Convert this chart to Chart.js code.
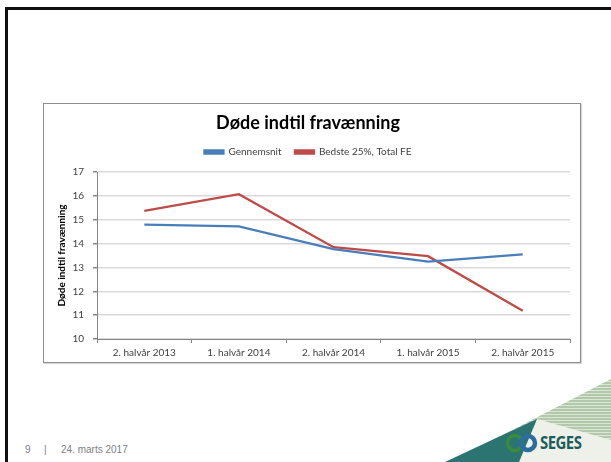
<!DOCTYPE html>
<html lang="da">
<head>
<meta charset="UTF-8">
<title>Døde indtil fravænning</title>
<script src="https://cdn.jsdelivr.net/npm/chart.js@4.4.1/dist/chart.umd.min.js"></script>
<style>
    html, body {
        margin: 0;
        padding: 0;
        background: #fff;
        width: 611px;
        height: 462px;
        overflow: hidden;
        position: relative;
    }
    .frame {
        position: absolute;
        left: 5px;
        top: 7px;
        width: 700px;
        height: 600px;
        border-top: 3px solid #111;
        border-left: 3px solid #111;
    }
    .chart-box {
        position: absolute;
        left: 43px;
        top: 103px;
        width: 536px;
        height: 258px;
        border: 1px solid #8c8c8c;
        box-shadow: 1px 1px 1px rgba(0,0,0,0.15);
        background: #fff;
    }
    .footer span {
        position: absolute;
        top: 444px;
        font-family: 'Liberation Sans', Arial, sans-serif;
        font-size: 10px;
        color: #808080;
    }
    .deco {
        position: absolute;
        left: 0;
        top: 0;
    }
    .seges {
        position: absolute;
        left: 540px;
        top: 431px;
        font-family: 'Open Sans', sans-serif;
        font-weight: bold;
        font-size: 17px;
        letter-spacing: -0.6px;
        color: #1d5e5b;
        transform: scaleX(0.88);
        transform-origin: left top;
    }
</style>
</head>
<body>
<div class="frame"></div>

<svg class="deco" width="611" height="462">
    <defs>
        <pattern id="stripes" width="4" height="3" patternUnits="userSpaceOnUse">
            <rect width="4" height="3" fill="#b2c8ab"/>
            <rect width="4" height="1" fill="#dce6d6"/>
        </pattern>
    </defs>
    <polygon points="611,379 443,466 611,466" fill="url(#stripes)"/>
    <polygon points="537,419 611,440 611,462 519,462" fill="#eef1ea"/>
    <polygon points="445,462 537,419 519,462" fill="#2b7471"/>
    <circle cx="515" cy="443" r="7.5" fill="none" stroke="#3a8a3e" stroke-width="3.5"/>
    <circle cx="528" cy="443" r="7" fill="none" stroke="#2a6d9e" stroke-width="4.5"/>
</svg>
<div class="seges">SEGES</div>

<div class="chart-box">
    <canvas id="chart" width="536" height="258"></canvas>
</div>

<div class="footer">
    <span style="left:25px">9</span>
    <span style="left:44px">|</span>
    <span style="left:61px">24. marts 2017</span>
</div>

<script>
    // Data
    const categories = ['2. halvår 2013', '1. halvår 2014', '2. halvår 2014', '1. halvår 2015', '2. halvår 2015'];
    const gennemsnit = [14.79, 14.72, 13.77, 13.24, 13.55];
    const bedste25 = [15.37, 16.07, 13.85, 13.47, 11.18];
    const yTicks = [10, 11, 12, 13, 14, 15, 16, 17];

    const font = "Lato, 'Open Sans', sans-serif";

    // a bit more room between legend and plot
    const legendGap = {
        id: 'legendGap',
        beforeLayout(chart) {
            const lg = chart.legend;
            if (lg && !lg._gapPatched) {
                const fit = lg.fit;
                lg.fit = function () {
                    fit.call(this);
                    this.height += 5;
                };
                lg._gapPatched = true;
            }
        }
    };

    new Chart(document.getElementById('chart'), {
        type: 'line',
        data: {
            labels: categories,
            datasets: [
                {
                    label: 'Gennemsnit',
                    data: gennemsnit,
                    borderColor: '#4a7ebb',
                    backgroundColor: '#4a7ebb',
                    borderWidth: 2.3,
                    pointRadius: 0,
                    tension: 0
                },
                {
                    label: 'Bedste 25%, Total FE',
                    data: bedste25,
                    borderColor: '#be4b48',
                    backgroundColor: '#be4b48',
                    borderWidth: 2.3,
                    pointRadius: 0,
                    tension: 0
                }
            ]
        },
        options: {
            responsive: false,
            animation: false,
            layout: {
                padding: { left: 2, right: 10, top: 6, bottom: 0 }
            },
            plugins: {
                title: {
                    display: true,
                    text: 'Døde indtil fravænning',
                    color: '#000',
                    font: { family: font, size: 18, weight: 'bold' },
                    padding: { top: 2, bottom: 0 }
                },
                legend: {
                    display: true,
                    labels: {
                        color: '#404040',
                        font: { family: font, size: 10 },
                        boxWidth: 19,
                        boxHeight: 3,
                        padding: 13.4
                    }
                },
                tooltip: { enabled: false }
            },
            scales: {
                x: {
                    offset: true,
                    afterFit: (scale) => { scale.height = 23; },
                    grid: {
                        display: true,
                        offset: true,
                        drawOnChartArea: false,
                        drawTicks: true,
                        tickLength: 4,
                        color: '#868686'
                    },
                    border: { display: true, color: '#868686' },
                    ticks: {
                        color: '#404040',
                        font: { family: font, size: 10 },
                        padding: 4,
                        maxRotation: 0
                    }
                },
                y: {
                    min: 10,
                    max: 17,
                    afterBuildTicks: (axis) => {
                        axis.ticks = yTicks.map(v => ({ value: v }));
                    },
                    afterFit: (scale) => { scale.width = 51; },
                    grid: {
                        color: '#d9d9d9',
                        lineWidth: 1.5,
                        tickLength: 4,
                        tickColor: '#868686'
                    },
                    border: { display: true, color: '#868686' },
                    ticks: {
                        color: '#404040',
                        font: { family: font, size: 10 },
                        padding: 9
                    },
                    title: {
                        display: true,
                        text: 'Døde indtil fravænning',
                        color: '#000',
                        font: { family: font, size: 10, weight: 'bold' },
                        padding: { top: 10, bottom: 0 }
                    }
                }
            }
        },
        plugins: [legendGap]
    });
</script>
</body>
</html>
